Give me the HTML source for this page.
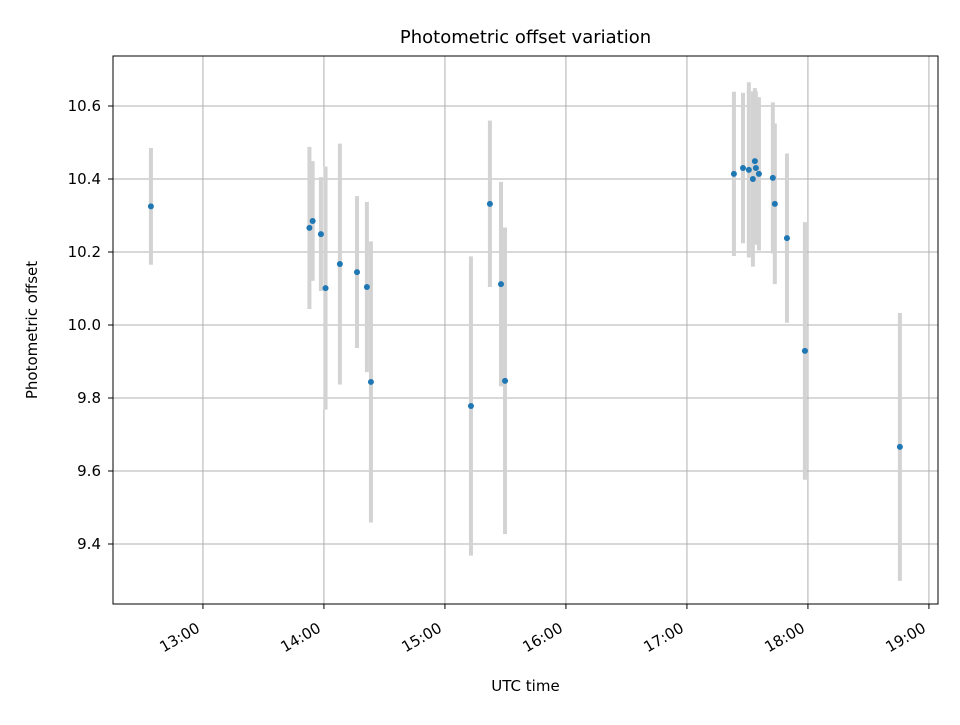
<!DOCTYPE html>
<html><head><meta charset="utf-8"><style>
body{margin:0;background:#fff;}
svg{font-family:"DejaVu Sans","Liberation Sans",sans-serif;}
</style></head><body>
<svg id="chart" width="960" height="720" viewBox="0 0 960 720" xmlns="http://www.w3.org/2000/svg">
<rect width="960" height="720" fill="#fff"/>
<g id="grid"></g><g id="bars"></g><g id="points"></g><g id="axes"></g>
</svg>
<script>
const timesMin=[34.2,112.8,114.4,118.5,120.8,127.9,136.4,141.3,143.3,192.9,202.3,207.8,209.8,323.3,327.8,330.7,332.7,333.7,334.2,335.7,342.6,343.6,349.6,358.5,405.6];
const values=[10.325,10.266,10.285,10.249,10.101,10.167,10.145,10.104,9.844,9.778,10.332,10.112,9.847,10.414,10.43,10.425,10.40,10.449,10.43,10.414,10.403,10.332,10.238,9.929,9.666];
const errors=[0.16,0.222,0.164,0.156,0.333,0.33,0.208,0.233,0.385,0.41,0.228,0.28,0.42,0.225,0.206,0.24,0.24,0.2,0.21,0.21,0.207,0.22,0.232,0.353,0.367];
const yTicks=[9.4,9.6,9.8,10.0,10.2,10.4,10.6];
const xTicksMin=[60,120,180,240,300,360,420];
const xTickLabels=["13:00","14:00","15:00","16:00","17:00","18:00","19:00"];
const L=113,R=938,T=56,B=604;
const xMin=15.4,xMax=424.5,yMin=9.2356,yMax=10.737;
const xs=m=>L+(m-xMin)/(xMax-xMin)*(R-L);
const ys=v=>B-(v-yMin)/(yMax-yMin)*(B-T);
const NS="http://www.w3.org/2000/svg";
function mk(tag,attrs,parent){const e=document.createElementNS(NS,tag);for(const k in attrs)e.setAttribute(k,attrs[k]);document.getElementById(parent).appendChild(e);return e;}
yTicks.forEach(v=>{const y=ys(v);
 const g=mk('line',{x1:L,x2:R,y1:y,y2:y,stroke:'#b0b0b0','stroke-width':1},'grid');
 
 const t=mk('line',{x1:L-5,x2:L,y1:y,y2:y,stroke:'#000'},'axes');
 
 const tx=mk('text',{x:L-12,y:y+5,'text-anchor':'end','font-size':15},'axes');tx.textContent=v.toFixed(1);
 
});
xTicksMin.forEach((m,i)=>{const x=xs(m);
 const g=mk('line',{x1:x,x2:x,y1:T,y2:B,stroke:'#b0b0b0','stroke-width':1},'grid');
 
 const t=mk('line',{x1:x,x2:x,y1:B,y2:B+5,stroke:'#000'},'axes');
 
 const ax=x-2,ay=B+27;
 const tx=mk('text',{x:ax,y:ay,'text-anchor':'end','font-size':15,transform:`rotate(-30 ${ax} ${ay})`},'axes');tx.textContent=xTickLabels[i];
 
});
timesMin.forEach((m,i)=>{const x=xs(m);
 const b=mk('line',{x1:x,x2:x,y1:ys(values[i]+errors[i]),y2:ys(values[i]-errors[i]),stroke:'#d3d3d3','stroke-width':4},'bars');
 
});
timesMin.forEach((m,i)=>{
 const c=mk('circle',{cx:xs(m),cy:ys(values[i]),r:3,fill:'#1f77b4'},'points');
 
});
const fr=mk('rect',{x:L,y:T,width:R-L,height:B-T,fill:'none',stroke:'#000','stroke-width':1},'axes');

const ti=mk('text',{x:(L+R)/2,y:43,'text-anchor':'middle','font-size':18},'axes');ti.textContent='Photometric offset variation';

const xl=mk('text',{x:(L+R)/2,y:691,'text-anchor':'middle','font-size':15},'axes');xl.textContent='UTC time';

const yl=mk('text',{x:37,y:(T+B)/2,'text-anchor':'middle','font-size':15,transform:`rotate(-90 37 ${(T+B)/2})`},'axes');yl.textContent='Photometric offset';

</script>
</body></html>
